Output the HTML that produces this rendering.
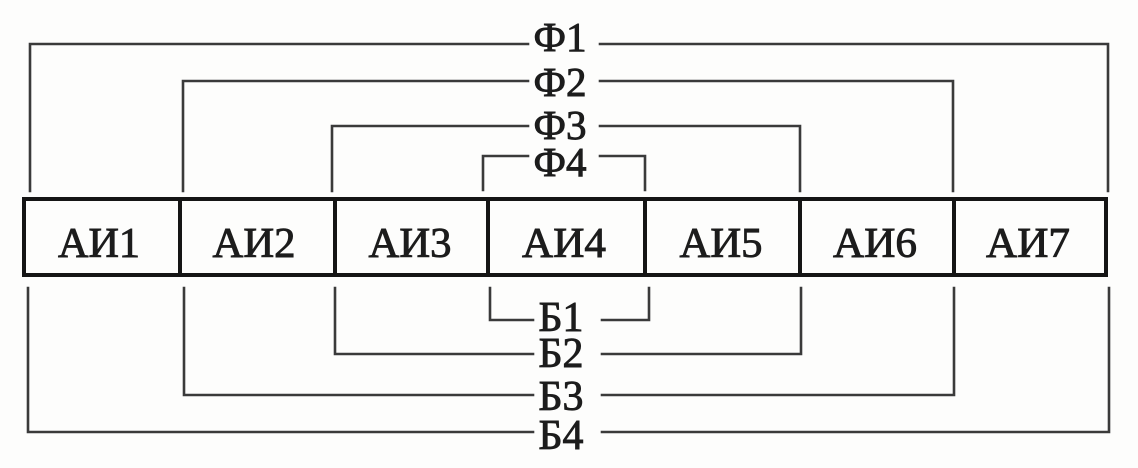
<!DOCTYPE html>
<html>
<head>
<meta charset="utf-8">
<style>
  html,body{margin:0;padding:0;background:#fdfdfc;}
  svg{display:block;}
  text{font-family:"Liberation Serif","DejaVu Serif",serif;fill:#1c1c1c;stroke:#1c1c1c;stroke-width:0.9;}
</style>
</head>
<body>
<svg width="1138" height="468" viewBox="0 0 1138 468" xmlns="http://www.w3.org/2000/svg">
  <rect x="0" y="0" width="1138" height="468" fill="#fdfdfc"/>
  <g fill="none" stroke="#3a3a3a" stroke-width="2.6" stroke-linecap="square">
    <!-- Ф1 -->
    <polyline points="30,191 30,44 528,44"/>
    <polyline points="600,44 1108,44 1108,191"/>
    <!-- Ф2 -->
    <polyline points="183,191 183,81 528,81"/>
    <polyline points="600,81 953,81 953,191"/>
    <!-- Ф3 -->
    <polyline points="332,191 332,126 528,126"/>
    <polyline points="600,126 800,126 800,191"/>
    <!-- Ф4 -->
    <polyline points="483,190 483,156 528,156"/>
    <polyline points="600,156 645,156 645,190"/>

    <!-- Б1 -->
    <polyline points="490,288 490,320 533,320"/>
    <polyline points="602,320 649,320 649,288"/>
    <!-- Б2 -->
    <polyline points="335,288 335,354 533,354"/>
    <polyline points="602,354 801,354 801,288"/>
    <!-- Б3 -->
    <polyline points="184,288 184,395 533,395"/>
    <polyline points="602,395 954,395 954,288"/>
    <!-- Б4 -->
    <polyline points="28,288 28,432 533,432"/>
    <polyline points="602,432 1109,432 1109,288"/>
  </g>

  <!-- main box -->
  <g fill="none" stroke="#151515" stroke-width="4">
    <rect x="24" y="199" width="1082" height="76"/>
    <line x1="180" y1="199" x2="180" y2="275"/>
    <line x1="335" y1="199" x2="335" y2="275"/>
    <line x1="488" y1="199" x2="488" y2="275"/>
    <line x1="645" y1="199" x2="645" y2="275"/>
    <line x1="800" y1="199" x2="800" y2="275"/>
    <line x1="954" y1="199" x2="954" y2="275"/>
  </g>

  <!-- cell labels -->
  <g font-size="42" text-anchor="middle">
    <text x="99" y="257" textLength="82" lengthAdjust="spacingAndGlyphs">АИ1</text>
    <text x="254" y="257" textLength="83" lengthAdjust="spacingAndGlyphs">АИ2</text>
    <text x="410" y="257" textLength="83" lengthAdjust="spacingAndGlyphs">АИ3</text>
    <text x="564" y="257" textLength="84" lengthAdjust="spacingAndGlyphs">АИ4</text>
    <text x="721" y="257" textLength="83" lengthAdjust="spacingAndGlyphs">АИ5</text>
    <text x="875" y="257" textLength="84" lengthAdjust="spacingAndGlyphs">АИ6</text>
    <text x="1028" y="257" textLength="84" lengthAdjust="spacingAndGlyphs">АИ7</text>
  </g>

  <!-- Ф labels -->
  <g font-size="41" text-anchor="middle">
    <text x="560" y="51" textLength="53" lengthAdjust="spacingAndGlyphs">Ф1</text>
    <text x="560" y="96" textLength="53" lengthAdjust="spacingAndGlyphs">Ф2</text>
    <text x="560" y="139" textLength="53" lengthAdjust="spacingAndGlyphs">Ф3</text>
    <text x="560" y="176" textLength="53" lengthAdjust="spacingAndGlyphs">Ф4</text>
  </g>

  <!-- Б labels -->
  <g font-size="42" text-anchor="middle">
    <text x="561" y="331" textLength="45" lengthAdjust="spacingAndGlyphs">Б1</text>
    <text x="561" y="367" textLength="45" lengthAdjust="spacingAndGlyphs">Б2</text>
    <text x="561" y="410" textLength="45" lengthAdjust="spacingAndGlyphs">Б3</text>
    <text x="561" y="449" textLength="45" lengthAdjust="spacingAndGlyphs">Б4</text>
  </g>
</svg>
</body>
</html>
